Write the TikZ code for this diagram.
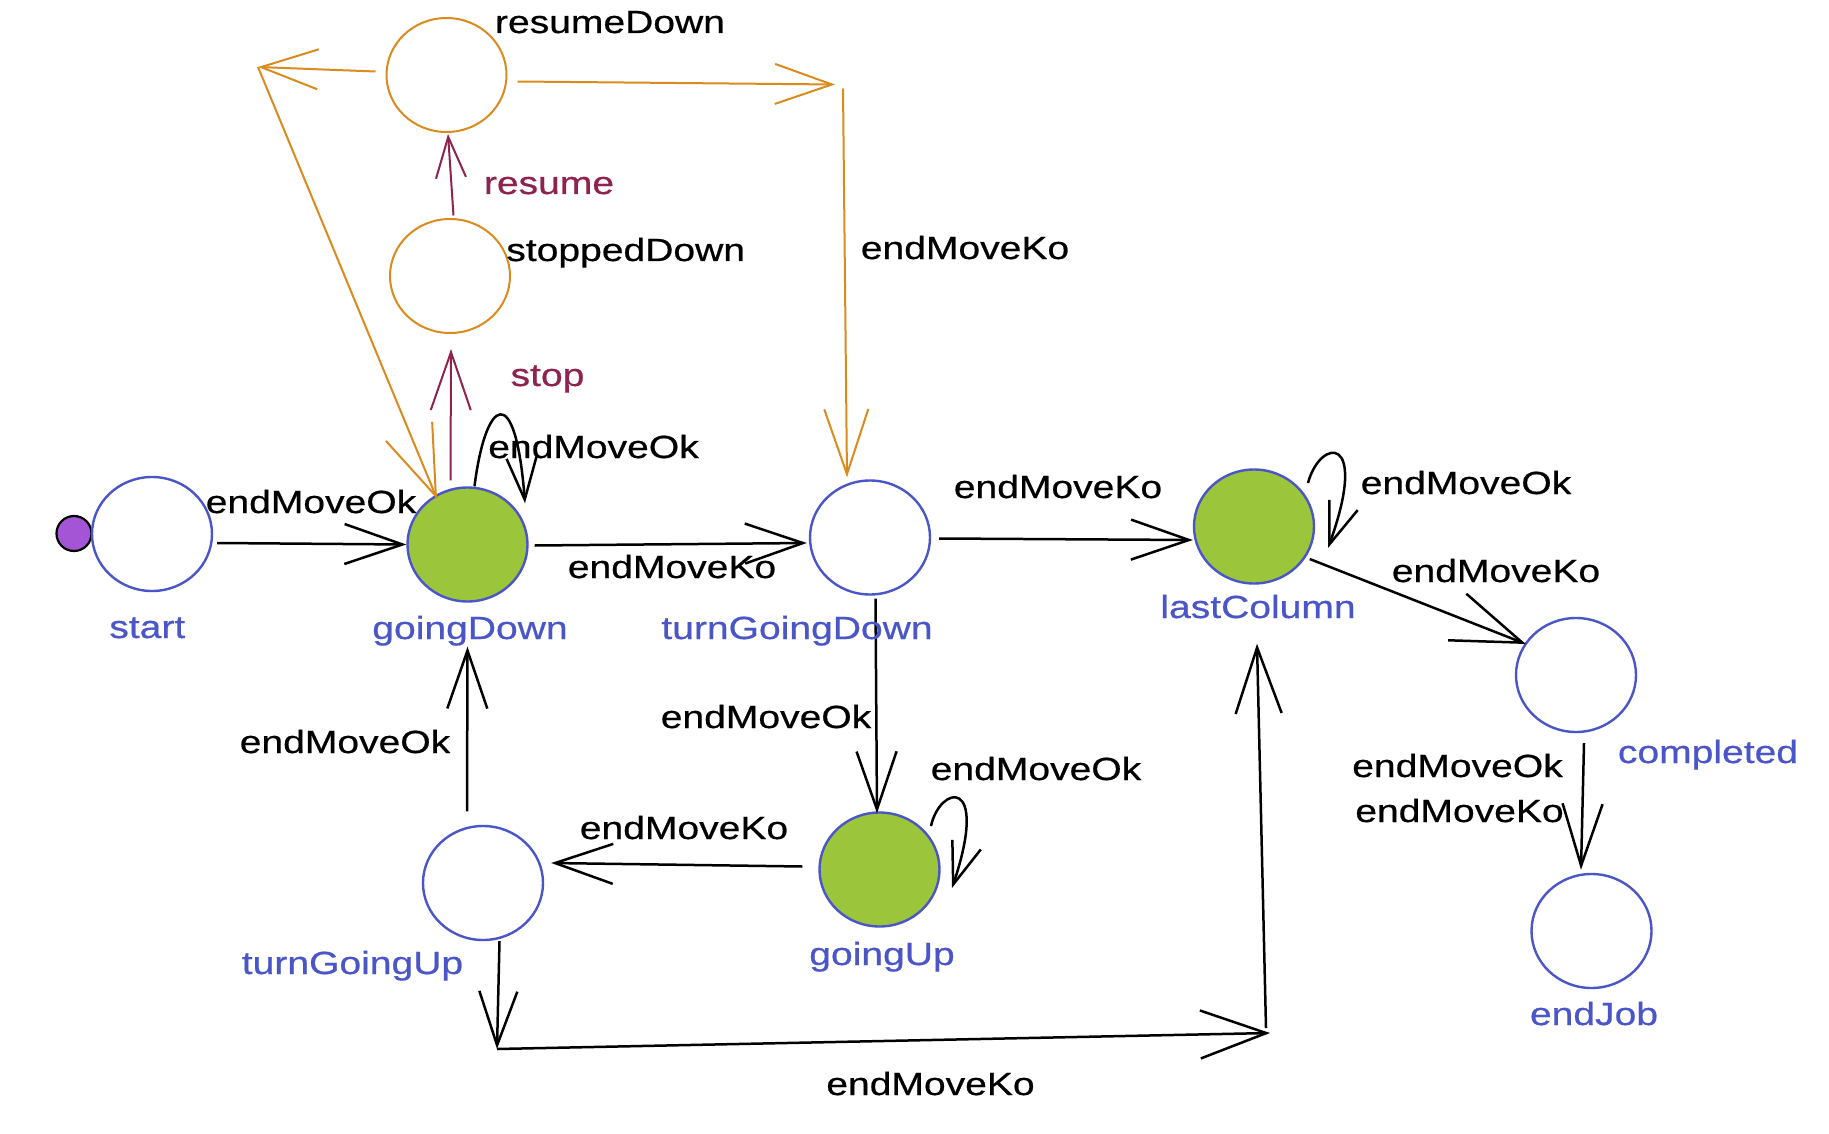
\documentclass[tikz,border=0pt]{standalone}
\usepackage{fontspec}
\setmainfont{Liberation Sans}[FakeStretch=1.22,FakeBold=0.6]
\usetikzlibrary{arrows.meta,calc,shapes.geometric}
\definecolor{stateblue}{HTML}{4A55C8}
\definecolor{stategreen}{HTML}{9BC53A}
\definecolor{stateorange}{HTML}{D98B1E}
\definecolor{trigpurple}{HTML}{8E2350}
\definecolor{dotpurple}{HTML}{A355D6}
\begin{document}
\begin{tikzpicture}[x=1pt,y=-1pt,
  state/.style={ellipse, draw=stateblue, line width=2.4pt, minimum width=120pt, minimum height=114pt, inner sep=0pt},
  ostate/.style={ellipse, draw=stateorange, line width=2pt, minimum width=120pt, minimum height=114pt, inner sep=0pt},
  initdot/.style={circle, draw=black, fill=dotpurple, line width=2.2pt, minimum size=35pt, inner sep=0pt},
  edge/.style={draw=black, line width=2.5pt, -{Straight Barb[length=58pt,width=40pt]}},
  loopedge/.style={draw=black, line width=2.5pt, -{Straight Barb[length=42pt,width=30pt]}},
  oedge/.style={draw=stateorange, line width=2pt, -{Straight Barb[length=57pt,width=40pt]}},
  pedge/.style={draw=trigpurple, line width=2pt, -{Straight Barb[length=58pt,width=40pt]}},
  bigtip/.style={-{Straight Barb[length=70pt,width=50pt]}},
  smalltip/.style={-{Straight Barb[length=41pt,width=30pt]}},
  lbl/.style={font=\fontsize{32}{38}\selectfont, inner sep=0pt, anchor=base},
  statelbl/.style={lbl, text=stateblue},
  triglbl/.style={lbl, text=trigpurple}
]
\fill[white] (0,0) rectangle (1829,1134);
\useasboundingbox (0,0) rectangle (1829,1134);

% states
\node[initdot] (init) at (74,533.5) {};
\node[state] (start) at (152,534) {};
\node[state, fill=stategreen] (goingDown) at (467.5,544.5) {};
\node[state] (turnGoingDown) at (870,537.5) {};
\node[state, fill=stategreen] (lastColumn) at (1254,526.5) {};
\node[state] (completed) at (1576,675) {};
\node[state] (endJob) at (1591.5,931) {};
\node[state, fill=stategreen] (goingUp) at (879.5,869.5) {};
\node[state] (turnGoingUp) at (483,883) {};
\node[ostate] (stoppedDown) at (450,276) {};
\node[ostate] (resumeDown) at (446.5,75) {};

% corners
\coordinate (cornerL) at (258,67);
\coordinate (cornerR) at (835,84.5);
\coordinate (cornerB1) at (497,1049);
\coordinate (cornerB2) at (1270,1033);

% edges
\draw[edge] ($(start.east)+(4,9)$) -- (goingDown.west);
\draw[edge] ($(goingDown.east)+(6,1)$) -- ($(turnGoingDown.west)+(-2,5.5)$);
\draw[loopedge] ($(goingDown.north)+(7,0)$) .. controls ($(goingDown.north)+(18,-88)$) and ($(goingDown.north)+(48,-108)$) .. ($(goingDown.north)+(57.5,17)$);
\draw[pedge] ($(goingDown.north)+(-17,-6)$) -- ($(stoppedDown.south)+(1,15)$);
\draw[pedge, smalltip] ($(stoppedDown.north)+(3.5,-2.5)$) -- ($(resumeDown.south)+(1.5,1)$);
\draw[oedge] ($(resumeDown.west)+(-10,-3.5)$) -- (cornerL);
\draw[oedge, bigtip] (cornerL) -- ($(goingDown.north)+(-30.5,12.5)$);
\draw[oedge] ($(resumeDown.east)+(10,6.5)$) -- (cornerR);
\draw[oedge, -{Straight Barb[length=65pt,width=44pt]}] ($(cornerR)+(8,4)$) -- ($(turnGoingDown.north)+(-23,-2)$);
\draw[edge] ($(turnGoingDown.east)+(8,1)$) -- ($(lastColumn.west)+(0,13.5)$);
\draw[loopedge] ($(lastColumn)+(54,-43.5)$) .. controls ($(lastColumn)+(66,-88.5)$) and ($(lastColumn)+(116,-94.5)$) .. ($(lastColumn)+(74,21.5)$);
\draw[edge, bigtip] ($(lastColumn.east)+(-5.5,32.5)$) -- ($(completed.west)+(11,-31)$);
\draw[edge, -{Straight Barb[length=62pt,width=40pt]}] ($(completed.south)+(8,10)$) -- ($(endJob.north)+(-10.5,-3)$);
\draw[edge] ($(turnGoingDown.south)+(5.5,3)$) -- ($(goingUp.north)+(-2.5,2)$);
\draw[loopedge] ($(goingUp)+(51.5,-43.5)$) .. controls ($(goingUp)+(60.5,-84.5)$) and ($(goingUp)+(110.5,-94.5)$) .. ($(goingUp)+(72.5,18.5)$);
\draw[edge] ($(goingUp.west)+(-16,-3)$) -- ($(turnGoingUp.east)+(7,-20)$);
\draw[edge] ($(turnGoingUp.north)+(-16,-13.5)$) -- ($(goingDown.south)+(0,44)$);
\draw[edge, -{Straight Barb[length=54pt,width=38pt]}] ($(turnGoingUp.south)+(16.5,0)$) -- (cornerB1);
\draw[edge, -{Straight Barb[length=66pt,width=48pt]}] (cornerB1) -- (cornerB2);
\draw[edge, -{Straight Barb[length=66pt,width=46pt]}] ($(cornerB2)+(-4,-5)$) -- ($(lastColumn.south)+(3,59)$);

% state labels
\node[statelbl] (lStart) at (147.3,638) {start};
\node[statelbl] (lGoingDown) at (470,639) {goingDown};
\node[statelbl] (lTurnGoingDown) at (797,639) {turnGoingDown};
\node[statelbl] (lLastColumn) at (1258,618) {lastColumn};
\node[statelbl] (lCompleted) at (1708,763) {completed};
\node[statelbl] (lEndJob) at (1594,1025) {endJob};
\node[statelbl] (lGoingUp) at (882,965) {goingUp};
\node[statelbl] (lTurnGoingUp) at (352.5,974) {turnGoingUp};
\node[lbl] (lStoppedDown) at (625.7,261) {stoppedDown};
\node[lbl] (lResumeDown) at (610,33) {resumeDown};

% trigger labels
\node[triglbl] (tResume) at (549,194) {resume};
\node[triglbl] (tStop) at (547.5,386) {stop};

% edge labels
\node[lbl] (e1) at (311,513) {endMoveOk};
\node[lbl] (e2) at (593.5,458) {endMoveOk};
\node[lbl] (e3) at (672,578) {endMoveKo};
\node[lbl] (e4) at (965,259) {endMoveKo};
\node[lbl] (e5) at (1058,498) {endMoveKo};
\node[lbl] (e6) at (1466,494) {endMoveOk};
\node[lbl] (e7) at (1496,582) {endMoveKo};
\node[lbl] (e8a) at (1457.5,777) {endMoveOk};
\node[lbl] (e8b) at (1459.5,822) {endMoveKo};
\node[lbl] (e9) at (766,728) {endMoveOk};
\node[lbl] (e10) at (1036,780) {endMoveOk};
\node[lbl] (e11) at (684,839) {endMoveKo};
\node[lbl] (e12) at (345,753) {endMoveOk};
\node[lbl] (e13) at (930.5,1095) {endMoveKo};
\end{tikzpicture}
\end{document}
